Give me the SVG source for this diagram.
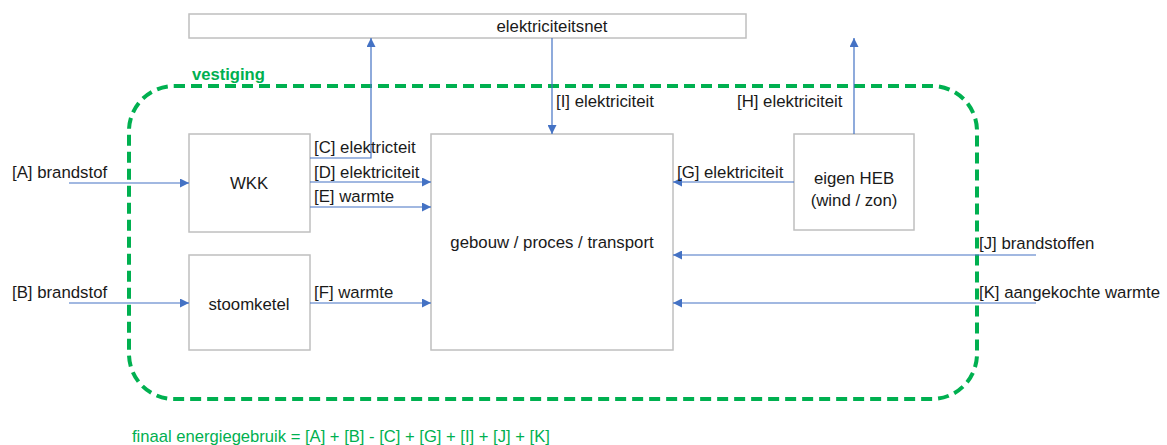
<svg xmlns="http://www.w3.org/2000/svg" width="1167" height="445" viewBox="0 0 1167 445">
<style>
.box{fill:#fff;stroke:#bfbfbf;stroke-width:1.5}
.t{font-family:"Liberation Sans",Arial,sans-serif;font-size:16.8px;fill:#1a1a1a}
.c{text-anchor:middle}
.ln{stroke:#4472c4;stroke-width:1.2;fill:none}
.g{fill:#00b050;font-family:"Liberation Sans",Arial,sans-serif;font-size:16.6px}
</style>
<defs>
<marker id="ah" viewBox="0 0 10 10" refX="10" refY="5" markerWidth="10" markerHeight="9" markerUnits="userSpaceOnUse" orient="auto">
<path d="M0,0 L10,5 L0,10 z" fill="#4472c4"/>
</marker>
</defs>
<rect x="0" y="0" width="1167" height="445" fill="#fff"/>
<g id="vestiging">
<rect x="129" y="86" width="848" height="313" rx="45" ry="45" fill="none" stroke="#00b050" stroke-width="4" stroke-dasharray="11,6"/>
<text class="g" x="192" y="80" font-weight="bold" font-size="15.5px">vestiging</text>
</g>
<g id="net">
<rect class="box" x="189" y="14" width="557" height="24"/>
<text class="t c" x="552" y="32">elektriciteitsnet</text>
</g>
<g id="wkk">
<rect class="box" x="189" y="134" width="121" height="98"/>
<text class="t c" x="249" y="189">WKK</text>
</g>
<g id="stoomketel">
<rect class="box" x="189" y="255" width="121" height="95"/>
<text class="t c" x="249" y="310">stoomketel</text>
</g>
<g id="gebouw">
<rect class="box" x="431" y="134" width="242" height="216"/>
<text class="t c" x="552" y="248">gebouw / proces / transport</text>
</g>
<g id="heb">
<rect class="box" x="794" y="134" width="120" height="96"/>
<text class="t c" x="854" y="184">eigen HEB</text>
<text class="t c" x="854" y="206">(wind / zon)</text>
</g>
<g id="connectors">
<line class="ln" x1="69" y1="183" x2="189" y2="183" marker-end="url(#ah)"/>
<line class="ln" x1="69" y1="303" x2="189" y2="303" marker-end="url(#ah)"/>
<polyline class="ln" points="310,158 371,158 371,38" marker-end="url(#ah)"/>
<line class="ln" x1="310" y1="182" x2="431" y2="182" marker-end="url(#ah)"/>
<line class="ln" x1="310" y1="207" x2="431" y2="207" marker-end="url(#ah)"/>
<line class="ln" x1="310" y1="303" x2="431" y2="303" marker-end="url(#ah)"/>
<line class="ln" x1="552" y1="38" x2="552" y2="134" marker-end="url(#ah)"/>
<line class="ln" x1="854" y1="134" x2="854" y2="38" marker-end="url(#ah)"/>
<line class="ln" x1="794" y1="182" x2="673" y2="182" marker-end="url(#ah)"/>
<line class="ln" x1="1036" y1="255" x2="673" y2="255" marker-end="url(#ah)"/>
<line class="ln" x1="1036" y1="303" x2="673" y2="303" marker-end="url(#ah)"/>
</g>
<g id="labels">
<text class="t" x="12" y="178">[A] brandstof</text>
<text class="t" x="12" y="298">[B] brandstof</text>
<text class="t" x="314" y="153">[C] elektricteit</text>
<text class="t" x="314" y="178">[D] elektriciteit</text>
<text class="t" x="314" y="202">[E] warmte</text>
<text class="t" x="314" y="298">[F] warmte</text>
<text class="t" x="677" y="178">[G] elektriciteit</text>
<text class="t" x="737" y="107">[H] elektriciteit</text>
<text class="t" x="556" y="107">[I] elektriciteit</text>
<text class="t" x="979" y="249">[J] brandstoffen</text>
<text class="t" x="979" y="298">[K] aangekochte warmte</text>
</g>
<text class="g" x="132" y="442">finaal energiegebruik = [A] + [B] - [C] + [G] + [I] + [J] + [K]</text>
</svg>
